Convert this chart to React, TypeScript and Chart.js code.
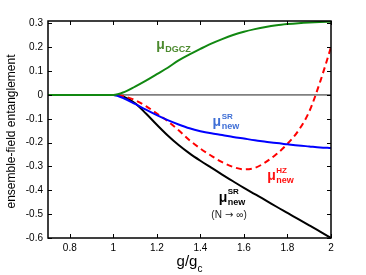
import React, { useEffect, useRef } from "react";
import { Chart, registerables } from "chart.js";

Chart.register(...registerables);

const FONT = "'Liberation Sans', Arial, Helvetica, sans-serif";

// g/gc grid
const gGrid = [0.7, 0.8, 0.9, 1.0, 1.05, 1.1, 1.15, 1.2, 1.25, 1.3, 1.35, 1.4, 1.45, 1.5, 1.55, 1.6, 1.65, 1.7, 1.75, 1.8, 1.85, 1.9, 1.95, 2.0];

const muDGCZ = [0, 0, 0, 0, 0.012, 0.035, 0.06, 0.087, 0.114, 0.145, 0.17, 0.193, 0.215, 0.234, 0.251, 0.265, 0.276, 0.285, 0.292, 0.297, 0.301, 0.304, 0.306, 0.307];
const muNewSR = [0, 0, 0, 0, -0.015, -0.038, -0.062, -0.085, -0.106, -0.124, -0.14, -0.152, -0.161, -0.168, -0.176, -0.183, -0.19, -0.196, -0.202, -0.207, -0.212, -0.216, -0.22, -0.223];
const muNewHZ = [0, 0, 0, 0, -0.006, -0.022, -0.047, -0.078, -0.11, -0.148, -0.19, -0.225, -0.255, -0.282, -0.302, -0.312, -0.306, -0.282, -0.248, -0.205, -0.15, -0.07, 0.055, 0.2];
const muNewSRInf = [0, 0, 0, 0, -0.008, -0.035, -0.078, -0.125, -0.17, -0.21, -0.245, -0.276, -0.305, -0.334, -0.362, -0.39, -0.416, -0.442, -0.469, -0.495, -0.521, -0.547, -0.573, -0.6];

const xTicks = [0.8, 1, 1.2, 1.4, 1.6, 1.8, 2];
const yTicks = [-0.6, -0.5, -0.4, -0.3, -0.2, -0.1, 0, 0.1, 0.2, 0.3];
const xRange = [0.7, 2];
const yRange = [-0.6, 0.31];

// curve labels: [g, value] anchors of the mu glyph (left, baseline)
const labels = [
  { g: 1.197, v: 0.192, sup: "", sub: "DGCZ", color: "#4c8a2e" },
  { g: 1.456, v: -0.1315, sup: "SR", sub: "new", color: "#3f6fd6" },
  { g: 1.707, v: -0.358, sup: "HZ", sub: "new", color: "#ff1010" },
  { g: 1.484, v: -0.447, sup: "SR", sub: "new", color: "#000000" },
];
const noteParts = ["(N", "\u2192", "\u221E)"];

const toXY = (ys: number[]) => gGrid.map((g, i) => ({ x: g, y: ys[i] }));
const fmt = (v: number) => String(Math.round(v * 10) / 10);

export default function App() {
  const ref = useRef<HTMLCanvasElement | null>(null);
  useEffect(() => {
    if (!ref.current) return;
    const decor = {
      id: "decor",
      beforeDatasetsDraw(chart: any) {
        const { ctx, chartArea: a, scales } = chart;
        const y0 = scales.y.getPixelForValue(0);
        ctx.save();
        ctx.strokeStyle = "#808080";
        ctx.lineWidth = 1.8;
        ctx.beginPath();
        ctx.moveTo(a.left, y0);
        ctx.lineTo(a.right, y0);
        ctx.stroke();
        ctx.restore();
      },
      afterDatasetsDraw(chart: any) {
        const { ctx, chartArea: a, scales } = chart;
        ctx.save();
        ctx.strokeStyle = "#000";
        ctx.lineWidth = 1.5;
        ctx.strokeRect(a.left, a.top, a.right - a.left, a.bottom - a.top);
        ctx.lineWidth = 1;
        const tl = 4;
        ctx.beginPath();
        xTicks.forEach((t) => {
          const x = Math.round(scales.x.getPixelForValue(t)) + 0.5;
          ctx.moveTo(x, a.bottom);
          ctx.lineTo(x, a.bottom - tl);
          ctx.moveTo(x, a.top);
          ctx.lineTo(x, a.top + tl);
        });
        yTicks.forEach((t) => {
          const y = Math.round(scales.y.getPixelForValue(t)) + 0.5;
          ctx.moveTo(a.left, y);
          ctx.lineTo(a.left + tl, y);
          ctx.moveTo(a.right, y);
          ctx.lineTo(a.right - tl, y);
        });
        ctx.stroke();

        // curve labels
        labels.forEach((l, i) => {
          const x = scales.x.getPixelForValue(l.g);
          const y = scales.y.getPixelForValue(l.v);
          ctx.fillStyle = l.color;
          ctx.textBaseline = "alphabetic";
          ctx.textAlign = "left";
          ctx.font = `bold 14px ${FONT}`;
          ctx.fillText("\u03BC", x, y);
          const w = ctx.measureText("\u03BC").width;
          if (l.sup) {
            ctx.font = `bold 8px ${FONT}`;
            ctx.fillText(l.sup, x + w + 0.5, y - 7.5);
          }
          ctx.font = `bold 9px ${FONT}`;
          ctx.fillText(l.sub, x + w + 0.5, y + 3);
          if (i === 3) {
            ctx.fillStyle = "#222";
            let nx = x - 7.3;
            const ny = y + 16;
            ctx.font = `10px ${FONT}`;
            ctx.fillText(noteParts[0], nx, ny);
            nx += ctx.measureText(noteParts[0]).width + 3;
            ctx.font = `10px 'DejaVu Sans', ${FONT}`;
            ctx.fillText(noteParts[1], nx, ny);
            nx += ctx.measureText(noteParts[1]).width + 3;
            ctx.font = `10px ${FONT}`;
            ctx.fillText(noteParts[2], nx, ny);
          }
        });

        // x title g/g_c
        ctx.fillStyle = "#000";
        ctx.font = `15px ${FONT}`;
        const main = "g/g";
        const mw = ctx.measureText(main).width;
        ctx.font = `10px ${FONT}`;
        const cw = ctx.measureText("c").width;
        const cx = (a.left + a.right) / 2;
        const startX = cx - (mw + cw) / 2;
        ctx.font = `15px ${FONT}`;
        ctx.fillText(main, startX, 266);
        ctx.font = `10px ${FONT}`;
        ctx.fillText("c", startX + mw, 272);

        // y title
        ctx.save();
        ctx.translate(12, (a.top + a.bottom) / 2 + 2);
        ctx.rotate(-Math.PI / 2);
        ctx.font = `12px ${FONT}`;
        ctx.textAlign = "center";
        ctx.textBaseline = "middle";
        ctx.fillText("ensemble-field entanglement", 0, 0);
        ctx.restore();
        ctx.restore();
      },
    };

    const chart = new Chart(ref.current, {
      type: "line",
      data: {
        datasets: [
          { data: toXY(muDGCZ), borderColor: "#118811", borderWidth: 2 },
          { data: toXY(muNewSR), borderColor: "#0000ff", borderWidth: 2 },
          { data: toXY(muNewHZ), borderColor: "#ff0000", borderWidth: 2, borderDash: [6, 4] },
          { data: toXY(muNewSRInf), borderColor: "#000000", borderWidth: 2 },
        ],
      },
      options: {
        animation: false,
        responsive: false,
        devicePixelRatio: 1,
        layout: { padding: { top: 21, right: 35, left: 0, bottom: 0 } },
        plugins: { legend: { display: false }, tooltip: { enabled: false } },
        elements: {
          point: { radius: 0 },
          line: { cubicInterpolationMode: "monotone", fill: false },
        },
        scales: {
          x: {
            type: "linear",
            min: xRange[0],
            max: xRange[1],
            grid: { display: false, drawTicks: false },
            border: { display: false },
            ticks: {
              font: { family: FONT, size: 10 },
              color: "#000",
              padding: 4,
              maxRotation: 0,
              autoSkip: false,
              callback: (v: any) => fmt(Number(v)),
            },
            afterBuildTicks: (s: any) => {
              s.ticks = xTicks.map((v) => ({ value: v }));
            },
            afterFit: (s: any) => {
              s.height = 37;
            },
          },
          y: {
            type: "linear",
            min: yRange[0],
            max: yRange[1],
            grid: { display: false, drawTicks: false },
            border: { display: false },
            ticks: {
              font: { family: FONT, size: 10 },
              color: "#000",
              padding: 5,
              autoSkip: false,
              callback: (v: any) => fmt(Number(v)),
            },
            afterBuildTicks: (s: any) => {
              s.ticks = yTicks.map((v) => ({ value: v }));
            },
            afterFit: (s: any) => {
              s.width = 48;
            },
          },
        },
      } as any,
      plugins: [decor],
    });
    return () => chart.destroy();
  }, []);

  return (
    <div style={{ position: "absolute", left: 0, top: 0, width: 366, height: 275, background: "#fff" }}>
      <canvas ref={ref} width={366} height={275} style={{ width: 366, height: 275 }} />
    </div>
  );
}
